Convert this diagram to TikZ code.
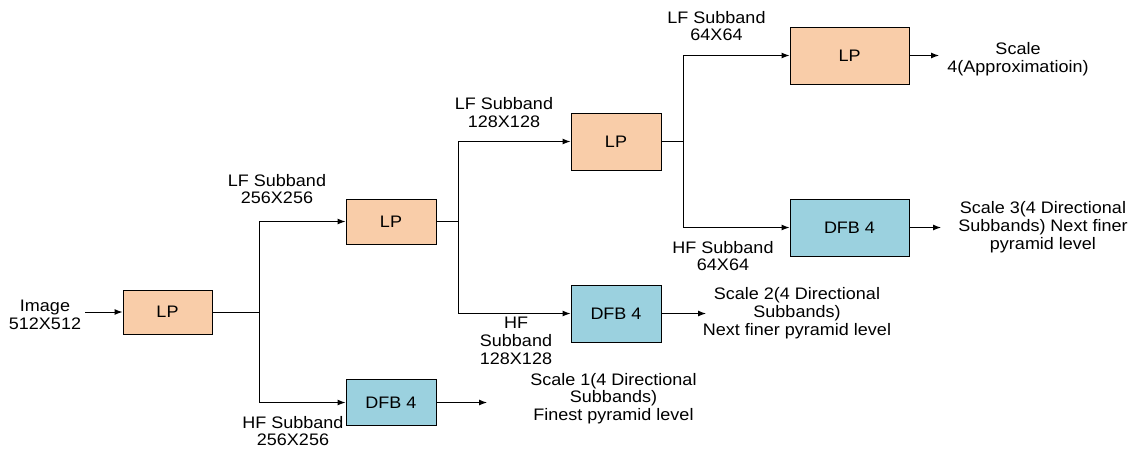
\documentclass[tikz,border=0pt]{standalone}
\usepackage{fontspec}
\setmainfont{Liberation Sans}[FakeStretch=1.08]
\definecolor{lpFill}{HTML}{F9CDA9}
\definecolor{dfbFill}{HTML}{9BD1DF}
\usetikzlibrary{positioning,arrows.meta}

\begin{document}
\begin{tikzpicture}[x=0.75pt, y=-0.75pt, font=\fontsize{12.5}{13.3}\selectfont,
  lpbox/.style={draw, line width=0.75pt, fill=lpFill},
  dfbbox/.style={draw, line width=0.75pt, fill=dfbFill},
  lbl/.style={align=center, inner sep=0pt},
  wire/.style={line width=0.75pt},
  arr/.style={wire, -{Latex[length=6pt,width=4.5pt]}}]
\useasboundingbox (0,0) rectangle (1132,450);
% boxes
\node[lpbox, minimum width=66.75pt, minimum height=33pt] (lp1) at (167.5,312) {LP};
\node[lpbox, minimum width=67.5pt, minimum height=33.75pt] (lp2) at (391,221.5) {LP};
\node[dfbbox, minimum width=67.5pt, minimum height=34.5pt] (dfb1) at (391,402.5) {DFB 4};
\node[lpbox, minimum width=67.5pt, minimum height=42.75pt] (lp3) at (616,141.5) {LP};
\node[dfbbox, minimum width=67.5pt, minimum height=42.75pt] (dfb2) at (616,313.5) {DFB 4};
\node[lpbox, minimum width=89.25pt, minimum height=42.75pt] (lp4) at (849.5,55.5) {LP};
\node[dfbbox, minimum width=89.25pt, minimum height=42.75pt] (dfb3) at (849.5,227.5) {DFB 4};
% labels
\node[lbl, inner xsep=3pt] (img) at (45,315) {Image\\512X512};
\node[lbl] (lf1) at (277,189) {LF Subband\\256X256};
\node[lbl] (hf1) at (293,431) {HF Subband\\256X256};
\node[lbl] (lf2) at (504,112.5) {LF Subband\\128X128};
\node[lbl] (hf2) at (516,341) {HF\\Subband\\128X128};
\node[lbl] (lf3) at (716.5,26) {LF Subband\\64X64};
\node[lbl] (hf3) at (723,256) {HF Subband\\64X64};
\node[lbl] (out1) at (613.5,398.5) {Scale 1(4 Directional\\Subbands)\\Finest pyramid level};
\node[lbl] (out2) at (797,313) {Scale 2(4 Directional\\Subbands)\\Next finer pyramid level};
\node[lbl] (out3) at (1043,227) {Scale 3(4 Directional\\Subbands) Next finer\\pyramid level};
\node[lbl] (out4) at (1018,59) {Scale\\4(Approximatioin)};
% branch points and free ends
\coordinate (b1) at (259,312);
\coordinate (b2) at (458,221.5);
\coordinate (b3) at (683,141.5);
\coordinate (e1) at (487,402.5);
\coordinate (e2) at (706,313.5);
\coordinate (e3) at (941,227.5);
\coordinate (e4) at (939,55.5);
% connectors
\draw[arr] (img.east |- lp1.west) -- (lp1.west);
\draw[wire] (lp1.east) -- (b1);
\draw[arr] (b1) |- (lp2.west);
\draw[arr] (b1) |- (dfb1.west);
\draw[wire] (lp2.east) -- (b2);
\draw[arr] (b2) |- (lp3.west);
\draw[arr] (b2) |- (dfb2.west);
\draw[wire] (lp3.east) -- (b3);
\draw[arr] (b3) |- (lp4.west);
\draw[arr] (b3) |- (dfb3.west);
\draw[arr] (dfb1.east) -- (e1);
\draw[arr] (dfb2.east) -- (e2);
\draw[arr] (dfb3.east) -- (e3);
\draw[arr] (lp4.east) -- (e4);
\end{tikzpicture}
\end{document}
